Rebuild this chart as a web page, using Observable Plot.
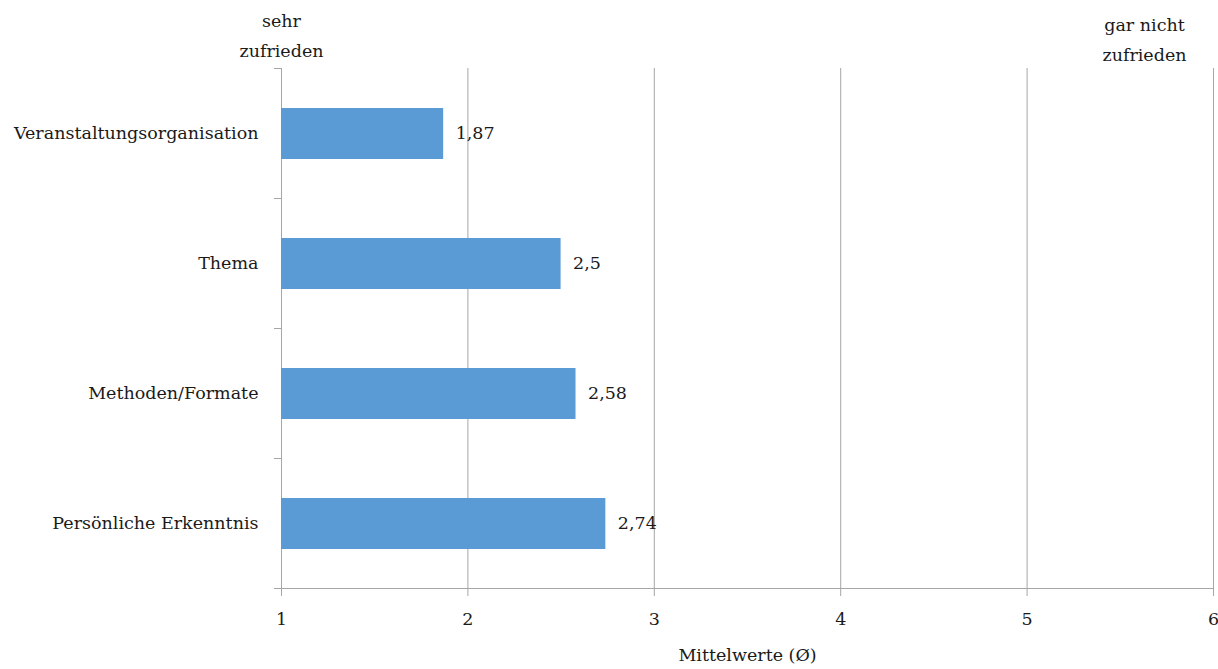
<!DOCTYPE html>
<html>
<head>
<meta charset="utf-8">
<script src="https://cdn.jsdelivr.net/npm/d3@7"></script>
<script src="https://cdn.jsdelivr.net/npm/@observablehq/plot@0.6"></script>
<style>
  html, body { margin: 0; padding: 0; background: #fff; }
  #chart svg { display: block; }
</style>
</head>
<body>
<div id="chart"></div>
<script>
const categories = ["Veranstaltungsorganisation", "Thema", "Methoden/Formate", "Persönliche Erkenntnis"];
const values = [1.87, 2.5, 2.58, 2.74];
const xTicks = [1, 2, 3, 4, 5, 6];
const xLabel = "Mittelwerte (Ø)";
const leftNote = "sehr\nzufrieden";
const rightNote = "gar nicht\nzufrieden";

const gray = "#a6a6a6";
const ink = "#1a1a1a";
const boundaries = d3.range(categories.length + 1);
const fmt = d => String(d).replace(".", ",");

const chart = Plot.plot({
  width: 1218,
  height: 669,
  marginTop: 68,
  marginBottom: 81,
  marginLeft: 281,
  marginRight: 5,
  style: { fontFamily: "'DejaVu Serif', serif", fontSize: "17.5px", color: ink, background: "#fff", overflow: "visible" },
  x: { domain: [1, 6] },
  y: { domain: [0, categories.length], reverse: true, axis: null },
  marks: [
    Plot.gridX(xTicks, { stroke: gray, strokeOpacity: 1 }),
    Plot.ruleY([categories.length], { stroke: gray }),
    Plot.axisY({ ticks: boundaries, tickSize: 7, tickFormat: () => "", stroke: gray, strokeOpacity: 1 }),
    Plot.rectX(values, {
      x1: 1, x2: d => d,
      y1: (d, i) => i, y2: (d, i) => i + 1,
      insetTop: 40, insetBottom: 39,
      fill: "#5B9BD5"
    }),
    Plot.text(categories, { y: (d, i) => i + 0.5, frameAnchor: "left", textAnchor: "end", dx: -23, fill: ink }),
    Plot.text(values, { x: d => d, y: (d, i) => i + 0.5, text: fmt, textAnchor: "start", dx: 12, fill: ink }),
    Plot.axisX({
      ticks: xTicks, tickFormat: d3.format("d"), tickSize: 8, tickPadding: 16, stroke: gray, strokeOpacity: 1, fill: ink,
      label: xLabel, labelAnchor: "center", labelArrow: "none", labelOffset: 72
    }),
    Plot.text([leftNote], { x: () => xTicks[0], frameAnchor: "top", lineAnchor: "bottom", dy: -12, lineHeight: 1.7, fill: ink }),
    Plot.text([rightNote], { x: () => xTicks[xTicks.length - 1], frameAnchor: "top", lineAnchor: "bottom", dx: -69, dy: -8, lineHeight: 1.7, fill: ink })
  ]
});
document.getElementById("chart").appendChild(chart);
</script>
</body>
</html>
